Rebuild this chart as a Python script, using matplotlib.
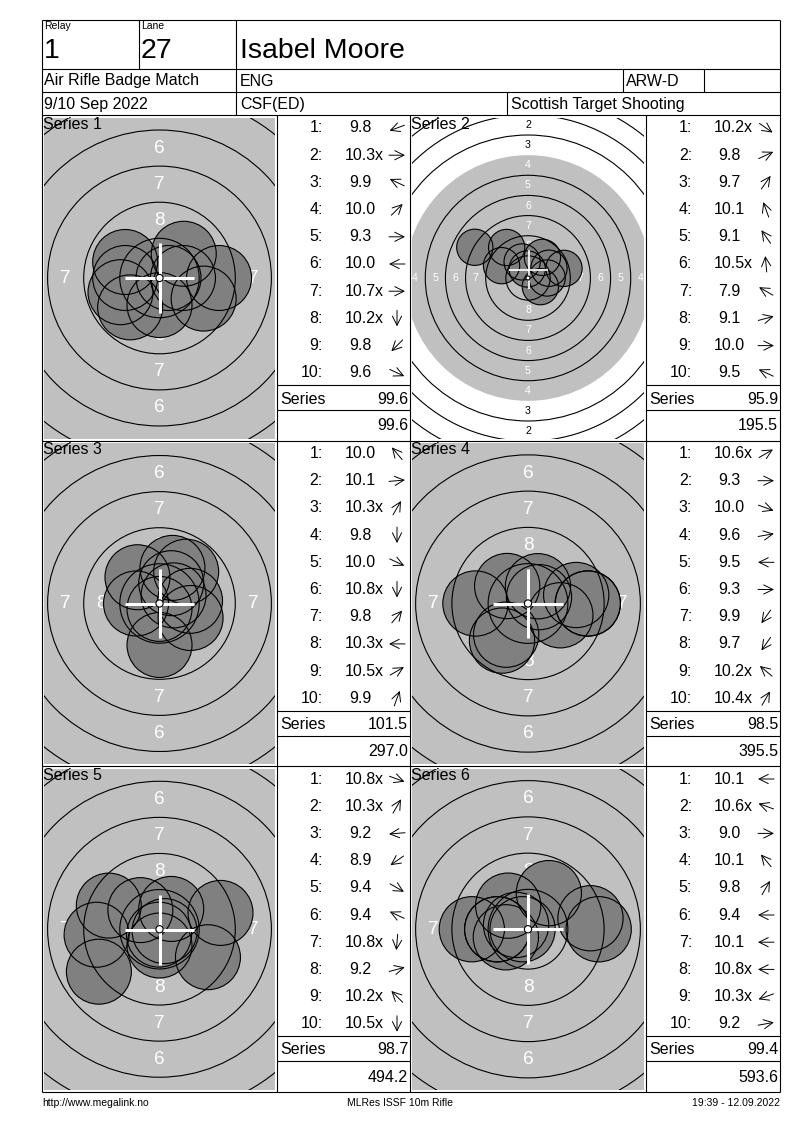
import numpy as np
import matplotlib
matplotlib.use('Agg')
import matplotlib.pyplot as plt
from matplotlib.patches import Circle

plt.rcParams['font.family'] = ['Liberation Sans', 'DejaVu Sans']

W, H = 800, 1130

# header / footer texts
relay = "1"
lane = "27"
shooter = "Isabel Moore"
match_name = "Air Rifle Badge Match"
nation = "ENG"
shooter_class = "ARW-D"
match_date = "9/10 Sep 2022"
club = "CSF(ED)"
organiser = "Scottish Target Shooting"
footer_left = "http://www.megalink.no"
footer_mid = "MLRes ISSF 10m Rifle"
footer_right = "19:39 - 12.09.2022"

series_names = ["Series 1", "Series 2", "Series 3", "Series 4", "Series 5", "Series 6"]

# decimal scores per shot
shot_scores = [
    [9.8, 10.3, 9.9, 10.0, 9.3, 10.0, 10.7, 10.2, 9.8, 9.6],
    [10.2, 9.8, 9.7, 10.1, 9.1, 10.5, 7.9, 9.1, 10.0, 9.5],
    [10.0, 10.1, 10.3, 9.8, 10.0, 10.8, 9.8, 10.3, 10.5, 9.9],
    [10.6, 9.3, 10.0, 9.6, 9.5, 9.3, 9.9, 9.7, 10.2, 10.4],
    [10.8, 10.3, 9.2, 8.9, 9.4, 9.4, 10.8, 9.2, 10.2, 10.5],
    [10.1, 10.6, 9.0, 10.1, 9.8, 9.4, 10.1, 10.8, 10.3, 9.2],
]
# inner ten marker ("x")
inner_ten = [
    [0, 1, 0, 0, 0, 0, 1, 1, 0, 0],
    [1, 0, 0, 0, 0, 1, 0, 0, 0, 0],
    [0, 0, 1, 0, 0, 1, 0, 1, 1, 0],
    [1, 0, 0, 0, 0, 0, 0, 0, 1, 1],
    [1, 1, 0, 0, 0, 0, 1, 0, 1, 1],
    [0, 1, 0, 0, 0, 0, 0, 1, 1, 0],
]
# direction of each shot from the centre, degrees (0 = right, 90 = up)
shot_dirs = [
    [200, 0, 155, 45, 0, 180, 0, 270, 225, -25],
    [-35, 25, 55, 110, 125, 95, 150, 15, 0, 155],
    [130, 5, 60, 270, -25, 270, 50, 180, 30, 70],
    [30, 0, -20, 10, 180, 0, 235, 235, 140, 60],
    [-20, 60, 185, 215, -30, 155, 265, 15, 135, 270],
    [180, 160, 0, 130, 60, 180, 180, 180, 200, 10],
]
series_totals = [99.6, 95.9, 101.5, 98.5, 98.7, 99.4]
running_totals = [99.6, 195.5, 297.0, 395.5, 494.2, 593.6]

# group centre marker (mm from target centre)
group_x = [0.0, 0.1, 0.0, 0.0, 0.0, 0.0]
group_y = [0.0, 1.05, 0.0, 0.0, -0.05, 0.0]

# visible half width of each target view (mm)
view_half_mm = [8.0, 14.4, 8.0, 8.0, 8.0, 8.0]

# ISSF 10m air rifle target
RING_W = 2.5
TEN_R = 0.25
PELLET_R = 2.25
AIM_RING = 4
CROSS_ARM = 2.4

TARGET_GRAY = '#c0c0c0'
SHOT_GRAY = '#808080'


def ring_radius(n):
    return TEN_R + (10 - n) * RING_W


def shot_xy(score, deg):
    d = (10.9 - score) * RING_W + 0.125
    a = np.radians(deg)
    return d * np.cos(a), d * np.sin(a)


def rect(x0, y0, x1, y1):
    return [x0 / W, 1 - y1 / H, (x1 - x0) / W, (y1 - y0) / H]


fig = plt.figure(figsize=(W / 100, H / 100), dpi=100)

col_x = [(42, 277, 410), (410, 646, 780)]
row_y = [115, 440.5, 766, 1092]

# =========================================================
# Targets
# =========================================================
for k in range(6):
    col, row = k % 2, k // 2
    bx0, bx1, lx1 = col_x[col]
    by0, by1 = row_y[row], row_y[row + 1]

    ax = fig.add_axes(rect(bx0 + 2, by0 + 2.5, bx1 - 2, by1 - 2))
    wpx = bx1 - bx0 - 4
    hpx = by1 - by0 - 4.5
    scale = (wpx / 2) / view_half_mm[k]
    xlim = wpx / 2 / scale
    ylim = hpx / 2 / scale
    ax.set_xlim(-xlim, xlim)
    ax.set_ylim(-ylim, ylim)
    ax.set_xticks([])
    ax.set_yticks([])
    for s in ax.spines.values():
        s.set_visible(False)
    ax.set_facecolor('white')

    ax.add_patch(Circle((0, 0), ring_radius(AIM_RING), fc=TARGET_GRAY, ec='none', zorder=1))

    # ring numbers (only the ones falling inside the view)
    for n in range(1, 9):
        r = ring_radius(n) - RING_W / 2
        c = 'white' if n >= AIM_RING else 'black'
        for dx, dy in [(0, 1), (0, -1), (-1, 0), (1, 0)]:
            if abs(dx * r) > xlim + 0.3 or abs(dy * r) > ylim + 0.3:
                continue
            ax.text(dx * r, dy * r, str(n), ha='center', va='center',
                    fontsize=0.95 * scale, color=c, clip_on=True, zorder=2)

    pts = [shot_xy(s, d) for s, d in zip(shot_scores[k], shot_dirs[k])]
    for x, y in pts:
        ax.add_patch(Circle((x, y), PELLET_R, fc=SHOT_GRAY, ec='none', zorder=3))

    for n in range(1, 10):
        if n == AIM_RING:
            continue
        ax.add_patch(Circle((0, 0), ring_radius(n), fill=False, ec='black', lw=0.8, zorder=4))

    for x, y in pts:
        ax.add_patch(Circle((x, y), PELLET_R, fill=False, ec='black', lw=0.8, zorder=5))

    # group centre cross
    mx, my = group_x[k], group_y[k]
    clw = 0.15 * scale
    ax.plot([mx - CROSS_ARM, mx + CROSS_ARM], [my, my], color='white', lw=clw,
            solid_capstyle='butt', zorder=6)
    ax.plot([mx, mx], [my - CROSS_ARM, my + CROSS_ARM], color='white', lw=clw,
            solid_capstyle='butt', zorder=6)

    ax.add_patch(Circle((0, 0), TEN_R, fc='white', ec='black', lw=0.8, zorder=7))

# =========================================================
# Layout / table
# =========================================================
lay = fig.add_axes([0, 0, 1, 1], zorder=10)
lay.set_xlim(0, W)
lay.set_ylim(H, 0)
lay.axis('off')

LW = 0.8


def hline(y, x0, x1):
    lay.plot([x0, x1], [y, y], color='black', lw=LW, solid_capstyle='butt')


def vline(x, y0, y1):
    lay.plot([x, x], [y0, y1], color='black', lw=LW, solid_capstyle='butt')


# outer frame and header grid
hline(20, 42, 780)
hline(1092, 42, 780)
vline(42, 20, 1092)
vline(780, 20, 1092)
hline(69, 42, 780)
hline(92, 42, 780)
hline(115, 42, 780)
vline(139, 20, 69)
vline(236, 20, 115)
vline(623, 69, 92)
vline(704, 69, 92)
vline(507, 92, 115)
for y in row_y[1:3]:
    hline(y, 42, 780)
for x in (277, 410, 646):
    vline(x, 115, 1092)

FS = 11.5
lay.text(44, 21, "Relay", ha='left', va='top', fontsize=7.5)
lay.text(141, 21, "Lane", ha='left', va='top', fontsize=7.5)
lay.text(44, 51, relay, ha='left', va='center', fontsize=20.5)
lay.text(141, 51, lane, ha='left', va='center', fontsize=20.5)
lay.text(240, 51, shooter, ha='left', va='center', fontsize=20.5)
lay.text(44, 81, match_name, ha='left', va='center', fontsize=FS)
lay.text(240, 81, nation, ha='left', va='center', fontsize=FS)
lay.text(626, 81, shooter_class, ha='left', va='center', fontsize=FS)
lay.text(44, 104, match_date, ha='left', va='center', fontsize=FS)
lay.text(240, 104, club, ha='left', va='center', fontsize=FS)
lay.text(511, 104, organiser, ha='left', va='center', fontsize=FS)

lay.text(42, 1103, footer_left, ha='left', va='center', fontsize=7.5)
lay.text(400, 1103, footer_mid, ha='center', va='center', fontsize=7.5)
lay.text(780, 1103, footer_right, ha='right', va='center', fontsize=7.5)

ARROW_L = 16
for k in range(6):
    col, row = k % 2, k // 2
    bx0, lx0, lx1 = col_x[col]
    by0 = row_y[row]

    lay.text(bx0 + 1, by0 + 2, series_names[k], ha='left', va='top', fontsize=FS)

    for i, (s, xm, deg) in enumerate(zip(shot_scores[k], inner_ten[k], shot_dirs[k])):
        y = by0 + 13 + 27.2 * i
        lay.text(lx0 + 46, y, f"{i + 1}:", ha='right', va='center', fontsize=FS)
        lay.text(lx0 + 83, y, f"{s:.1f}", ha='center', va='center', fontsize=FS)
        if xm:
            lay.text(lx0 + 98, y, "x", ha='left', va='center', fontsize=FS)
        cx = lx0 + 120
        dx = np.cos(np.radians(deg)) * ARROW_L / 2
        dy = -np.sin(np.radians(deg)) * ARROW_L / 2
        lay.annotate('', xy=(cx + dx, y + dy), xytext=(cx - dx, y - dy),
                     arrowprops=dict(arrowstyle='->,head_length=0.6,head_width=0.3',
                                     lw=0.7, color='black', shrinkA=0, shrinkB=0,
                                     mutation_scale=11))

    hline(by0 + 270, lx0, lx1)
    hline(by0 + 295, lx0, lx1)
    lay.text(lx0 + 3, by0 + 284, "Series", ha='left', va='center', fontsize=FS)
    lay.text(lx1 - 2, by0 + 284, f"{series_totals[k]:.1f}", ha='right', va='center', fontsize=FS)
    lay.text(lx1 - 2, by0 + 311, f"{running_totals[k]:.1f}", ha='right', va='center', fontsize=FS)

plt.savefig("out.png", dpi=100)
plt.close()
